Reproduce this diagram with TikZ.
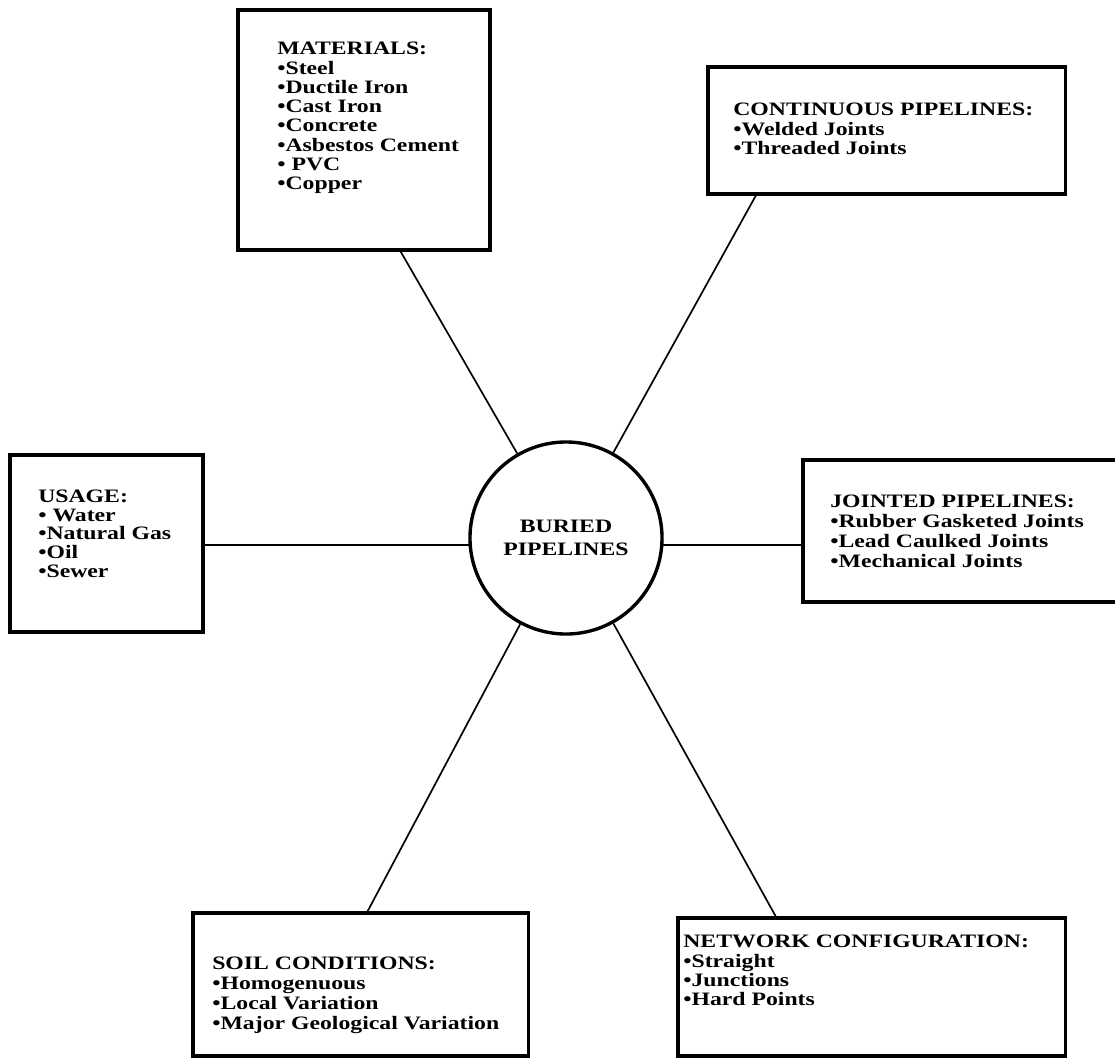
\documentclass[tikz,border=0pt]{standalone}
\usepackage{fontspec}
\setmainfont{Liberation Serif}[FakeStretch=1.25]
\usepackage{tikz}
\usetikzlibrary{calc}
\tikzset{
	box/.style={rectangle, draw, line width=2.2pt, inner sep=0pt},
	hubnode/.style={circle, draw, line width=2.4pt, minimum size=4.8cm, inner sep=0pt, align=center, font=\fontsize{13.5}{16}\selectfont\bfseries},
	list/.style={anchor=north west, inner sep=0pt, align=left, font=\fontsize{13.5}{13.7}\selectfont\bfseries},
	link/.style={draw, line width=1.2pt}
}

\begin{document}
\begin{tikzpicture}[x=0.025cm, y=-0.025cm]
	\useasboundingbox (0,0) rectangle (1115,1059);
	\clip (0,0) rectangle (1115,1059);
	
	% Central node
	\node[hubnode] (hub) at (566,538) {BURIED\\PIPELINES};
	
	% Boxes round the hub
	\node[box, minimum width=6.3cm, minimum height=6cm] (mat) at (364,130) {};
	\node[box, minimum width=8.925cm, minimum height=3.175cm] (cont) at (886.5,130.5) {};
	\node[box, minimum width=4.825cm, minimum height=4.425cm] (usage) at (106.5,543.5) {};
	\node[box, minimum width=8.05cm, minimum height=3.55cm] (joint) at (964,531) {};
	\node[box, minimum width=8.375cm, minimum height=3.575cm] (soil) at (360.5,984.5) {};
	\node[box, minimum width=9.675cm, minimum height=3.45cm] (net) at (871.5,987) {};
	
	% Lists in the boxes
	\node[list] (matlist) at (277,42) {MATERIALS:\\\textbullet Steel\\\textbullet Ductile Iron\\\textbullet Cast Iron\\\textbullet Concrete\\\textbullet Asbestos Cement\\\textbullet{} PVC\\\textbullet Copper};
	\node[list] (contlist) at (733,103) {CONTINUOUS PIPELINES:\\\textbullet Welded Joints\\\textbullet Threaded Joints};
	\node[list, font=\fontsize{13.5}{13.2}\selectfont\bfseries] (usagelist) at (38,490) {USAGE:\\\textbullet{} Water\\\textbullet Natural Gas\\\textbullet Oil\\\textbullet Sewer};
	\node[list, font=\fontsize{13.5}{14.2}\selectfont\bfseries] (jointlist) at (830,495) {JOINTED PIPELINES:\\\textbullet Rubber Gasketed Joints\\\textbullet Lead Caulked Joints\\\textbullet Mechanical Joints};
	\node[list, font=\fontsize{13.5}{14.2}\selectfont\bfseries] (soillist) at (212,957) {SOIL CONDITIONS:\\\textbullet Homogenuous\\\textbullet Local Variation\\\textbullet Major Geological Variation};
	\node[list] (netlist) at (683,935) {NETWORK CONFIGURATION:\\\textbullet Straight\\\textbullet Junctions\\\textbullet Hard Points};
	
	% Spokes
	\path[link] (hub.120) -- (intersection of hub.center--hub.120 and mat.south west--mat.south east);
	\path[link] (hub.61) -- (intersection of hub.center--hub.61 and cont.south west--cont.south east);
	\path[link] (hub.184) -- (hub.184 -| usage.east);
	\path[link] (hub.-4) -- (hub.-4 -| joint.west);
	\path[link] (hub.242) -- (intersection of hub.center--hub.242 and soil.north west--soil.north east);
	\path[link] (hub.299) -- (intersection of hub.center--hub.299 and net.north west--net.north east);
\end{tikzpicture}
\end{document}
